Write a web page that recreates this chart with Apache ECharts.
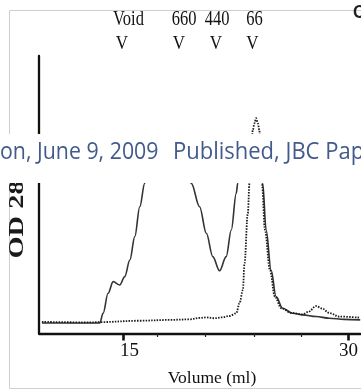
<!DOCTYPE html>
<html><head><meta charset="utf-8">
<script src="https://cdn.jsdelivr.net/npm/echarts@6/dist/echarts.min.js"></script>
<style>html,body{margin:0;padding:0;background:#fff}#c{width:361px;height:390px}</style>
</head><body><div id="c"></div>
<script>
// Solid trace (sample), elution volume (ml) vs OD 280 (relative)
const solidVolume = [9.60, 11.5, 13.45, 13.67, 14.00, 14.34, 14.78, 15.11, 15.45, 15.78, 16.11, 16.44, 16.77, 17.24, 17.83, 18.50, 19.10, 19.54, 20.09, 20.54, 20.97, 21.42, 21.86, 22.20, 22.53, 22.63, 22.95, 23.30, 23.60, 23.95, 24.15, 24.29, 24.52, 24.85, 25.18, 25.62, 26.28, 26.95, 27.84, 28.72, 29.71, 30.78];
const solidOD     = [0.038, 0.038, 0.038, 0.073, 0.145, 0.187, 0.175, 0.205, 0.265, 0.349, 0.457, 0.541, 0.620, 0.672, 0.690, 0.672, 0.612, 0.541, 0.457, 0.361, 0.277, 0.226, 0.277, 0.373, 0.505, 0.541, 0.640, 0.690, 0.700, 0.665, 0.610, 0.541, 0.373, 0.229, 0.133, 0.091, 0.073, 0.067, 0.061, 0.055, 0.051, 0.049];
// Dotted trace (standard)
const dottedVolume = [9.60, 12.79, 13.45, 16.11, 18.10, 19.43, 20.09, 20.54, 21.09, 21.55, 22.08, 22.53, 22.75, 22.97, 23.08, 23.30, 23.41, 23.51, 23.63, 23.74, 23.85, 23.97, 24.07, 24.16, 24.24, 24.44, 24.77, 25.10, 25.53, 26.20, 26.93, 27.33, 27.84, 28.25, 28.72, 29.38, 30.78];
const dottedOD     = [0.042, 0.040, 0.041, 0.046, 0.049, 0.051, 0.056, 0.058, 0.055, 0.058, 0.063, 0.073, 0.109, 0.157, 0.253, 0.433, 0.541, 0.625, 0.733, 0.757, 0.776, 0.757, 0.733, 0.632, 0.541, 0.373, 0.229, 0.133, 0.091, 0.074, 0.069, 0.078, 0.099, 0.090, 0.074, 0.061, 0.057];
// Axis ticks
const majorTicks = [15, 30];
const minorTicks = [17.3, 20.5, 23.7, 26.85];
const xMin = 9.405, xMax = 30.776;
// Markers
const markerLabels = ['Void', '660', '440', '66'];

const zip = (a, b) => a.map((v, i) => [v, b[i]]);
const chart = echarts.init(document.getElementById('c'), null, {renderer: 'canvas'});
const serif = '"Liberation Serif", "Times New Roman", serif';
const markerX = [128.5, 184, 217, 254.5];
const vX = [122, 179, 216, 252.5];

const graphics = [
  {type: 'rect', z: 1, shape: {x: 9.5, y: 10.5, width: 420, height: 378}, style: {fill: 'none', stroke: '#cfcfcf', lineWidth: 1}},
  {type: 'text', z: 50, x: 18, y: 258.5, rotation: Math.PI / 2, scaleX: 1.42, style: {text: 'OD 280', fontFamily: serif, fontWeight: 'bold', fontSize: 20, fill: '#1a1a1a', align: 'left', verticalAlign: 'middle'}},
  {type: 'text', z: 50, x: 212, y: 378, style: {text: 'Volume (ml)', fontFamily: serif, fontSize: 17.5, fill: '#111', align: 'center', verticalAlign: 'middle'}},
  {type: 'text', z: 50, x: 353, y: 13, scaleY: 1.1, style: {text: 'C', fontFamily: '"Liberation Sans", Arial, sans-serif', fontWeight: 'bold', fontSize: 17, fill: '#222', align: 'left', verticalAlign: 'middle'}},
  {type: 'rect', z: 100, shape: {x: 0, y: 134, width: 361, height: 49}, style: {fill: '#ffffff'}},
  {type: 'text', z: 101, x: 0, y: 152, scaleX: 0.97, scaleY: 1.07, style: {text: 'on, June 9, 2009', fontFamily: '"Open Sans", sans-serif', fontSize: 22, fill: '#425b8c', align: 'left', verticalAlign: 'middle'}},
  {type: 'text', z: 101, x: 173, y: 152, scaleY: 1.07, style: {text: 'Published, JBC Papers in Press', fontFamily: '"Open Sans", sans-serif', fontSize: 22, fill: '#425b8c', align: 'left', verticalAlign: 'middle'}}
];
markerLabels.forEach((t, i) => {
  graphics.push({type: 'text', z: 50, x: markerX[i], y: 19, scaleY: 1.3, style: {text: t, fontFamily: serif, fontSize: 16.5, fill: '#111', align: 'center', verticalAlign: 'middle'}});
  graphics.push({type: 'text', z: 50, x: vX[i], y: 44.5, scaleY: 1.05, style: {text: 'V', fontFamily: serif, fontSize: 17, fill: '#111', align: 'center', verticalAlign: 'middle'}});
});

chart.setOption({
  animation: false,
  backgroundColor: '#fff',
  grid: {left: 39, right: 0, top: 56, bottom: 56.5, containLabel: false},
  xAxis: [
    {type: 'value', min: xMin, max: xMax, position: 'bottom',
     axisLine: {show: true, lineStyle: {color: '#111', width: 2.3}},
     axisTick: {show: true, customValues: majorTicks, length: 7, lineStyle: {color: '#111', width: 2.6}},
     axisLabel: {show: true, customValues: majorTicks, margin: 8, fontFamily: serif, fontSize: 19, color: '#111',
       formatter: v => (v === majorTicks[0] ? '{s|' + v + '}' : '{n|' + v + '}'),
       rich: {s: {padding: [0, 0, 0, 13], fontFamily: serif, fontSize: 19, color: '#111'}, n: {fontFamily: serif, fontSize: 19, color: '#111'}}},
     splitLine: {show: false}},
    {type: 'value', min: xMin, max: xMax, position: 'bottom',
     axisLine: {show: false},
     axisTick: {show: true, customValues: minorTicks, length: 3.5, lineStyle: {color: '#222', width: 1.2}},
     axisLabel: {show: false}, splitLine: {show: false}}
  ],
  yAxis: {type: 'value', min: 0, max: 1,
    axisLine: {show: true, lineStyle: {color: '#111', width: 2.3}},
    axisTick: {show: false}, axisLabel: {show: false}, splitLine: {show: false}},
  series: [
    {type: 'line', name: 'solid', xAxisIndex: 0, data: zip(solidVolume, solidOD), showSymbol: false, symbol: 'none',
     smooth: 0.35, smoothMonotone: 'x', lineStyle: {color: '#333', width: 1.6}, z: 3},
    {type: 'line', name: 'dotted', xAxisIndex: 0, data: zip(dottedVolume, dottedOD), showSymbol: false, symbol: 'none',
     smooth: 0.35, smoothMonotone: 'x', lineStyle: {color: '#1a1a1a', width: 1.8, type: [1.5, 1.3]}, z: 4}
  ],
  graphic: graphics
});
</script></body></html>
